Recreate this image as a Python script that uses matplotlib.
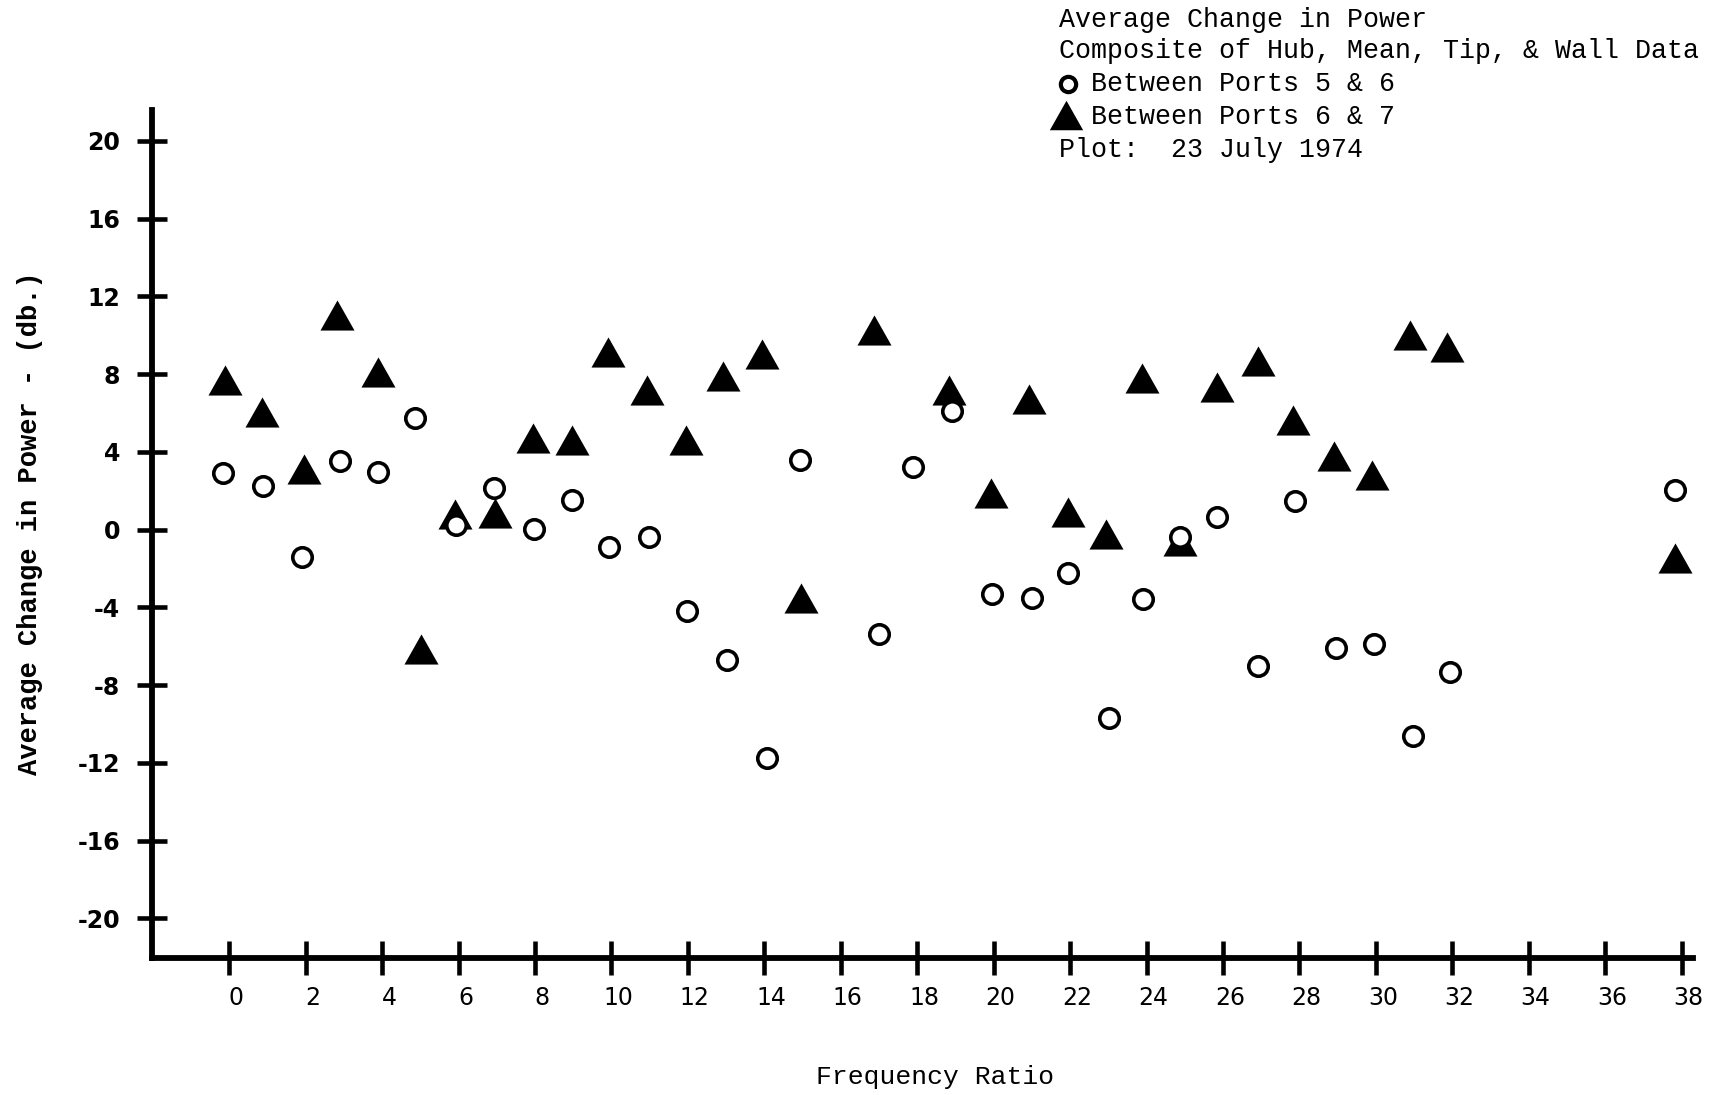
import matplotlib
matplotlib.use("Agg")
import matplotlib.pyplot as plt
from matplotlib.lines import Line2D
from matplotlib.transforms import ScaledTranslation

plt.rcParams["axes.unicode_minus"] = False

# Between ports 5 & 6 (open circles)
x_56 = [-0.16, 0.89, 1.91, 2.89, 3.88, 4.87, 5.92, 6.93, 7.96, 8.96, 9.94, 10.99,
        11.98, 13.01, 14.08, 14.93, 17.0, 17.9, 18.9, 19.96, 21.01, 21.94, 23.02,
        23.91, 24.87, 25.85, 26.92, 27.88, 28.95, 29.95, 30.96, 31.94, 37.84]
y_56 = [2.92, 2.24, -1.40, 3.54, 2.96, 5.75, 0.23, 2.13, 0.04, 1.52, -0.92, -0.37,
        -4.18, -6.71, -11.77, 3.58, -5.39, 3.23, 6.11, -3.33, -3.54, -2.25, -9.71,
        -3.59, -0.37, 0.66, -7.0, 1.48, -6.11, -5.89, -10.6, -7.35, 2.03]

# Between ports 6 & 7 (filled triangles)
x_67 = [-0.11, 0.85, 1.95, 2.81, 3.89, 5.01, 5.9, 6.96, 7.95, 8.96, 9.92, 10.92,
        11.95, 12.93, 13.93, 14.96, 16.87, 18.84, 19.92, 20.92, 21.95, 22.93, 23.89,
        24.87, 25.85, 26.92, 27.84, 28.9, 29.9, 30.89, 31.85, 37.84]
y_67 = [7.67, 6.03, 3.09, 11.03, 8.12, -6.16, 0.79, 0.85, 4.69, 4.61, 9.12, 7.16,
        4.59, 7.88, 9.05, -3.51, 10.27, 7.18, 1.9, 6.7, 0.92, -0.21, 7.78,
        -0.58, 7.33, 8.65, 5.65, 3.76, 2.82, 10.02, 9.39, -1.44]

x_ticks = list(range(0, 39, 2))
y_ticks = list(range(-20, 21, 4))

note_lines = ["Average Change in Power",
              "Composite of Hub, Mean, Tip, & Wall Data",
              "  Between Ports 5 & 6",
              "  Between Ports 6 & 7",
              "Plot:  23 July 1974"]

mono = "Liberation Mono"
tri = [(0, 0.885), (-1, -0.885), (1, -0.885)]

fig = plt.figure(figsize=(17.15, 10.95), dpi=100)
ax = fig.add_axes([0.0887, 0.1251, 0.8985, 0.7744])

ax.plot(x_56, y_56, linestyle="none", marker="o", markersize=14,
        markerfacecolor="white", markeredgecolor="black", markeredgewidth=2.6,
        clip_on=False, zorder=3)
ax.plot(x_67, y_67, linestyle="none", marker=tri, markersize=24.5,
        markerfacecolor="black", markeredgewidth=0, clip_on=False, zorder=2)

ax.set_xlim(-2.02, 38.3)
ax.set_ylim(-22.04, 21.58)

for s in ["top", "right"]:
    ax.spines[s].set_visible(False)
for s in ["left", "bottom"]:
    ax.spines[s].set_linewidth(4.2)
    ax.spines[s].set_capstyle("projecting")

ax.set_xticks(x_ticks)
ax.set_yticks(y_ticks)
ax.tick_params(axis="x", direction="inout", length=24, width=3.3, pad=8,
               labelsize=17)
ax.tick_params(axis="y", direction="inout", length=22, width=3.3, pad=12,
               labelsize=17)
for lab in ax.get_yticklabels():
    lab.set_fontweight("bold")
for lab in ax.get_xticklabels():
    lab.set_transform(lab.get_transform() + ScaledTranslation(5 / 72, 0, fig.dpi_scale_trans))

# y / x labels placed in figure pixels
W, H = 1715, 1095
fig.text(30 / W, 1 - 523 / H, "Average Change in Power - (db.)", rotation=90,
         ha="center", va="center", family=mono, fontweight="bold", fontsize=19.5)
fig.text(935 / W, 1 - 1077 / H, "Frequency Ratio", ha="center", va="center",
         family=mono, fontsize=19)

# annotation block top right
ys = [19.7, 51.4, 84.2, 117, 149.8]
for line, yp in zip(note_lines, ys):
    fig.text(1059 / W, 1 - yp / H, line, ha="left", va="center",
             family=mono, fontsize=19.2)
fig.add_artist(Line2D([1068 / W], [1 - 84.2 / H], marker="o", markersize=11,
                      markerfacecolor="white", markeredgecolor="black",
                      markeredgewidth=3, transform=fig.transFigure))
fig.add_artist(Line2D([1066 / W], [1 - 115 / H], marker=tri, markersize=24,
                      markerfacecolor="black", markeredgewidth=0,
                      transform=fig.transFigure))

fig.savefig("out.png", dpi=100, facecolor="white")
